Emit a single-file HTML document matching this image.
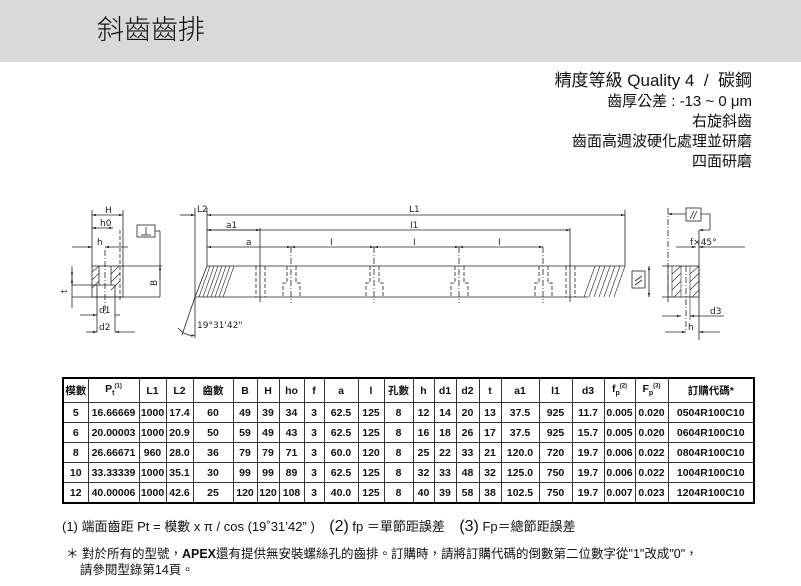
<!DOCTYPE html>
<html><head><meta charset="utf-8"><style>
body{margin:0;width:801px;height:586px;background:#fff;position:relative;overflow:hidden;font-family:"Liberation Sans","Noto Sans CJK TC",sans-serif;color:#111}
.band{position:absolute;left:0;top:0;width:801px;height:62px;background:#d9d9d9}
.title{position:absolute;left:97px;top:8px;font-size:27px;font-family:"Noto Sans CJK TC",sans-serif;font-weight:300}
.spec{position:absolute;right:49px;top:71px;text-align:right;font-size:15px;line-height:20px;font-family:"Liberation Sans","Noto Sans CJK TC",sans-serif}
table{position:absolute;left:62px;top:377px;border-collapse:collapse;border:2px solid #000;font-size:10.5px;font-weight:bold;table-layout:fixed}
td{border:1px solid #333;text-align:center;height:19px;padding:0;white-space:nowrap}
tr:first-child td{height:23px}
.n{position:absolute;font-size:13px;white-space:nowrap}
svg{position:absolute;left:0;top:0}
</style></head><body>
<div class="band"></div>
<div class="title">斜齒齒排</div>
<div class="spec"><span style="font-size:17px">精度等級 Quality 4 &nbsp;/ &nbsp;碳鋼</span><br>齒厚公差 : -13 ~ 0 μm<br>右旋斜齒<br>齒面高週波硬化處理並研磨<br>四面研磨</div>
<svg width="801" height="586" viewBox="0 0 801 586" fill="none" stroke="#222" stroke-width="0.8" font-family="DejaVu Sans" font-size="9">
<defs><marker id="a" viewBox="0 0 10 6" refX="10" refY="3" markerWidth="8" markerHeight="3" orient="auto-start-reverse"><path d="M0 0L10 3L0 6Z" fill="#222" stroke="none"/></marker></defs>
<!-- left end view -->
<rect x="92" y="266" width="31" height="31"/>
<line x1="72" y1="297" x2="160" y2="297"/><line x1="123" y1="266" x2="162" y2="266"/>
<g stroke-width="0.6"><line x1="92" y1="272" x2="99" y2="266"/><line x1="92" y1="280" x2="99" y2="273"/><line x1="92" y1="288" x2="99" y2="281"/>
<line x1="111" y1="274" x2="119" y2="266"/><line x1="111" y1="282" x2="120" y2="273"/><line x1="111" y1="290" x2="120" y2="281"/></g>
<line x1="99" y1="266" x2="99" y2="285"/><line x1="111" y1="266" x2="111" y2="285"/><line x1="95" y1="285" x2="115" y2="285"/>
<line x1="97" y1="285" x2="97" y2="332"/><line x1="115" y1="285" x2="115" y2="332"/>
<line x1="105" y1="250" x2="105" y2="315" stroke-dasharray="6 2 1 2"/>
<line x1="120" y1="230" x2="120" y2="300" stroke-dasharray="4 2"/>
<line x1="92" y1="210" x2="92" y2="266"/><line x1="123" y1="210" x2="123" y2="266"/>
<line x1="92" y1="215" x2="123" y2="215" marker-start="url(#a)" marker-end="url(#a)"/><line x1="92" y1="228" x2="113" y2="228" marker-start="url(#a)" marker-end="url(#a)"/>
<line x1="72" y1="247" x2="92" y2="247" marker-end="url(#a)"/><line x1="128" y1="247" x2="105" y2="247" marker-end="url(#a)"/><line x1="72" y1="285" x2="97" y2="285"/>
<line x1="72" y1="266" x2="72" y2="308"/><line x1="72" y1="270" x2="72" y2="285" marker-start="url(#a)" marker-end="url(#a)"/>
<line x1="80" y1="315" x2="97" y2="315" marker-end="url(#a)"/><line x1="120" y1="315" x2="115" y2="315"/>
<line x1="86" y1="332" x2="97" y2="332" marker-end="url(#a)"/><line x1="135" y1="332" x2="115" y2="332" marker-end="url(#a)"/>
<rect x="137" y="225" width="18" height="12"/><line x1="146" y1="227" x2="146" y2="235"/><line x1="141" y1="235" x2="151" y2="235"/>
<line x1="155" y1="231" x2="160" y2="231"/><line x1="160" y1="231" x2="160" y2="297"/><line x1="160" y1="280" x2="160" y2="266" marker-end="url(#a)"/>
<text x="105" y="213" fill="#222" stroke="none">H</text><text x="100" y="226" fill="#222" stroke="none">h0</text><text x="97" y="245" fill="#222" stroke="none">h</text>
<text x="99" y="313" fill="#222" stroke="none">d1</text><text x="99" y="330" fill="#222" stroke="none">d2</text>
<text x="67" y="293" fill="#222" stroke="none" transform="rotate(-90 67 293)">t</text><text x="157" y="286" fill="#222" stroke="none" transform="rotate(-90 157 286)">B</text>
<!-- main bar -->
<line x1="207" y1="266" x2="625" y2="266"/><line x1="195" y1="297" x2="588" y2="297"/>
<line x1="207" y1="266" x2="195" y2="297"/><line x1="195" y1="297" x2="182" y2="335"/>
<line x1="195" y1="208" x2="195" y2="338"/><line x1="207" y1="208" x2="207" y2="266"/>
<path d="M178 328 Q186 337 195 335" marker-end="url(#a)"/>
<g stroke-width="0.6">
<line x1="210" y1="266" x2="199" y2="297"/><line x1="214" y1="266" x2="203" y2="297"/><line x1="218" y1="266" x2="207" y2="297"/><line x1="222" y1="266" x2="211" y2="297"/><line x1="226" y1="266" x2="215" y2="297"/><line x1="230" y1="266" x2="219" y2="297"/><line x1="234" y1="266" x2="223" y2="297"/>
<line x1="595" y1="266" x2="584" y2="297"/><line x1="600" y1="266" x2="589" y2="297"/><line x1="605" y1="266" x2="594" y2="297"/><line x1="610" y1="266" x2="599" y2="297"/><line x1="615" y1="266" x2="604" y2="297"/><line x1="620" y1="266" x2="609" y2="297"/><line x1="625" y1="266" x2="614" y2="297"/></g>
<line x1="180" y1="215" x2="195" y2="215" marker-end="url(#a)"/><line x1="207" y1="215" x2="625" y2="215" marker-start="url(#a)" marker-end="url(#a)"/><line x1="625" y1="210" x2="625" y2="266"/>
<line x1="207" y1="230" x2="570" y2="230" marker-start="url(#a)" marker-end="url(#a)"/><line x1="570" y1="228" x2="570" y2="302"/>
<line x1="207" y1="230" x2="260" y2="230" marker-end="url(#a)"/>
<line x1="207" y1="247" x2="291" y2="247" marker-start="url(#a)" marker-end="url(#a)"/><line x1="291" y1="247" x2="374" y2="247" marker-start="url(#a)" marker-end="url(#a)"/><line x1="374" y1="247" x2="459" y2="247" marker-start="url(#a)" marker-end="url(#a)"/><line x1="459" y1="247" x2="543" y2="247" marker-start="url(#a)" marker-end="url(#a)"/>
<line x1="260" y1="228" x2="260" y2="302"/>
<g stroke-dasharray="4 2"><line x1="256" y1="266" x2="256" y2="297"/><line x1="265" y1="266" x2="265" y2="297"/><line x1="566" y1="266" x2="566" y2="297"/><line x1="575" y1="266" x2="575" y2="297"/>
<path d="M287 266V283H283V297M296 266V283H300V297"/><path d="M370 266V283H366V297M379 266V283H383V297"/><path d="M455 266V283H451V297M464 266V283H468V297"/><path d="M539 266V283H535V297M548 266V283H552V297"/></g>
<g stroke-dasharray="6 2 1 2"><line x1="291" y1="247" x2="291" y2="303"/><line x1="374" y1="247" x2="374" y2="303"/><line x1="459" y1="247" x2="459" y2="303"/><line x1="543" y1="247" x2="543" y2="303"/></g>
<g fill="#222" stroke="none"><text x="409" y="212">L1</text><text x="197" y="212">L2</text><text x="410" y="228">I1</text><text x="226" y="228">a1</text><text x="246" y="245">a</text>
<text x="330" y="245">I</text><text x="413" y="245">I</text><text x="498" y="245">I</text><text x="197" y="328">19°31'42"</text>
<text x="690" y="245">f×45°</text><text x="710" y="314">d3</text><text x="688" y="330">h</text></g>
<!-- right end -->
<rect x="668" y="266" width="31" height="31"/>
<line x1="668" y1="208" x2="668" y2="303" stroke-dasharray="6 2 1 2"/>
<line x1="686" y1="266" x2="686" y2="330" stroke-dasharray="6 2 1 2"/>
<g stroke-width="0.6"><line x1="672" y1="266" x2="672" y2="297"/><line x1="681" y1="266" x2="681" y2="297"/><line x1="690" y1="266" x2="690" y2="320"/>
<line x1="672" y1="274" x2="681" y2="266"/><line x1="672" y1="282" x2="681" y2="273"/><line x1="672" y1="290" x2="681" y2="281"/><line x1="674" y1="297" x2="681" y2="290"/>
<line x1="690" y1="274" x2="699" y2="266"/><line x1="690" y1="282" x2="699" y2="273"/><line x1="690" y1="290" x2="699" y2="281"/><line x1="692" y1="297" x2="699" y2="290"/></g>
<line x1="699" y1="230" x2="699" y2="340"/>
<rect x="686" y="208" width="15" height="13"/><line x1="690" y1="219" x2="694" y2="211"/><line x1="693" y1="219" x2="697" y2="211"/>
<line x1="686" y1="214" x2="668" y2="214" marker-end="url(#a)"/><path d="M701 214H710V230H699" marker-end="url(#a)"/>
<line x1="676" y1="247" x2="696" y2="247" marker-end="url(#a)"/><line x1="745" y1="247" x2="699" y2="247" marker-end="url(#a)"/>
<line x1="662" y1="266" x2="668" y2="266"/><line x1="662" y1="297" x2="668" y2="297"/><line x1="649" y1="266" x2="649" y2="297" marker-start="url(#a)" marker-end="url(#a)"/>
<rect x="632" y="271" width="13" height="17"/><line x1="635" y1="281" x2="642" y2="276"/><line x1="635" y1="285" x2="642" y2="280"/>
<line x1="662" y1="316" x2="681" y2="316" marker-end="url(#a)"/><line x1="724" y1="316" x2="690" y2="316" marker-end="url(#a)"/>
<line x1="665" y1="332" x2="686" y2="332" marker-end="url(#a)"/><line x1="720" y1="332" x2="699" y2="332" marker-end="url(#a)"/>
</svg>
<table>
<colgroup><col width="25"><col width="51"><col width="27"><col width="27"><col width="40"><col width="24"><col width="22"><col width="25"><col width="20"><col width="34"><col width="26"><col width="29"><col width="21"><col width="22"><col width="23"><col width="22"><col width="38"><col width="33"><col width="32"><col width="31"><col width="33"><col width="86"></colgroup>
<tr><td>模數</td><td>P<sub style="font-size:7px">t</sub><sup style="font-size:6px">(1)</sup></td><td>L1</td><td>L2</td><td>齒數</td><td>B</td><td>H</td><td>ho</td><td>f</td><td>a</td><td>l</td><td>孔數</td><td>h</td><td>d1</td><td>d2</td><td>t</td><td>a1</td><td>l1</td><td>d3</td><td>f<sub style="font-size:7px">p</sub><sup style="font-size:6px">(2)</sup></td><td>F<sub style="font-size:7px">p</sub><sup style="font-size:6px">(3)</sup></td><td>訂購代碼*</td></tr>
<tr><td>5</td><td>16.66669</td><td>1000</td><td>17.4</td><td>60</td><td>49</td><td>39</td><td>34</td><td>3</td><td>62.5</td><td>125</td><td>8</td><td>12</td><td>14</td><td>20</td><td>13</td><td>37.5</td><td>925</td><td>11.7</td><td>0.005</td><td>0.020</td><td>0504R100C10</td></tr>
<tr><td>6</td><td>20.00003</td><td>1000</td><td>20.9</td><td>50</td><td>59</td><td>49</td><td>43</td><td>3</td><td>62.5</td><td>125</td><td>8</td><td>16</td><td>18</td><td>26</td><td>17</td><td>37.5</td><td>925</td><td>15.7</td><td>0.005</td><td>0.020</td><td>0604R100C10</td></tr>
<tr><td>8</td><td>26.66671</td><td>960</td><td>28.0</td><td>36</td><td>79</td><td>79</td><td>71</td><td>3</td><td>60.0</td><td>120</td><td>8</td><td>25</td><td>22</td><td>33</td><td>21</td><td>120.0</td><td>720</td><td>19.7</td><td>0.006</td><td>0.022</td><td>0804R100C10</td></tr>
<tr><td>10</td><td>33.33339</td><td>1000</td><td>35.1</td><td>30</td><td>99</td><td>99</td><td>89</td><td>3</td><td>62.5</td><td>125</td><td>8</td><td>32</td><td>33</td><td>48</td><td>32</td><td>125.0</td><td>750</td><td>19.7</td><td>0.006</td><td>0.022</td><td>1004R100C10</td></tr>
<tr><td>12</td><td>40.00006</td><td>1000</td><td>42.6</td><td>25</td><td>120</td><td>120</td><td>108</td><td>3</td><td>40.0</td><td>125</td><td>8</td><td>40</td><td>39</td><td>58</td><td>38</td><td>102.5</td><td>750</td><td>19.7</td><td>0.007</td><td>0.023</td><td>1204R100C10</td></tr>
</table>
<div class="n" style="left:62px;top:516px">(1) 端面齒距 Pt = 模數 x π / cos (19˚31’42” ) &nbsp;&nbsp;&nbsp;<span style="font-size:16px">(2)</span> fp ＝單節距誤差 &nbsp;&nbsp;&nbsp;<span style="font-size:16px">(3)</span> Fp＝總節距誤差</div>
<div class="n" style="left:66px;top:546px;font-size:12.5px;line-height:16px">＊ 對於所有的型號，<b>APEX</b>還有提供無安裝螺絲孔的齒排。訂購時，請將訂購代碼的倒數第二位數字從"1"改成"0"，<br>&nbsp;&nbsp;&nbsp;&nbsp;請參閱型錄第14頁。</div>
</body></html>
